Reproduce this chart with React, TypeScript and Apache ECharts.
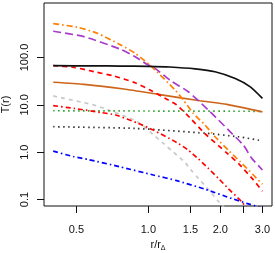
import React, { useEffect, useRef } from "react";
import * as echarts from "echarts";

// ---- data (r / r_Delta, T(r)) ----
const blackSolidR = [0.4, 0.6, 0.76, 1.0, 1.23, 1.57, 1.9, 2.31, 2.67, 3.0];
const blackSolidT = [67, 66.5, 66, 65, 63, 57.5, 50, 36, 24, 13.7];

const brownR = [0.4, 0.538, 0.79, 1.1, 1.645, 2.13, 3.0];
const brownT = [30, 27.1, 21.6, 16.7, 12.2, 10.2, 7.1];

const greenR = [0.4, 1.0, 3.0];
const greenT = [7.5, 7.4, 7.3];

const blackDotR = [0.4, 0.88, 1.75, 2.37, 3.0];
const blackDotT = [3.45, 3.18, 2.5, 2.12, 1.74];

const blueR = [0.4, 0.489, 0.56, 0.762, 1.049, 1.315, 1.727, 2.233, 2.58, 3.0];
const blueT = [1.05, 0.8, 0.7, 0.49, 0.33, 0.25, 0.165, 0.105, 0.083, 0.066];

const orangeR = [0.4, 0.505, 0.612, 0.766, 0.88, 1.016, 1.293, 1.401, 1.543, 1.727, 1.9, 2.16, 2.42, 2.75, 3.0];
const orangeT = [519, 435, 325, 184, 123, 69, 20.6, 12.6, 6.6, 3.74, 2.12, 1.1, 0.63, 0.33, 0.21];

const purpleR = [0.4, 0.538, 0.766, 0.88, 0.985, 1.067, 1.232, 1.47, 1.78, 1.963, 2.233, 2.497, 2.708, 3.0];
const purpleT = [358, 275, 149, 104, 72, 59, 33, 18.9, 7.8, 4.8, 2.5, 1.41, 0.74, 0.42];

const redDashR = [0.4, 0.489, 0.593, 0.719, 0.88, 1.016, 1.212, 1.315, 1.494, 1.72, 2.15, 2.38, 2.75, 3.0];
const redDashT = [67, 62, 50, 40.6, 29.3, 20.6, 12.6, 9.9, 5.3, 2.5, 0.92, 0.58, 0.26, 0.15];

const redDotDashR = [0.4, 0.489, 0.632, 0.73, 0.908, 1.049, 1.315, 1.47, 1.619, 1.782, 1.963, 2.16, 2.46, 3.0];
const redDotDashT = [9.6, 8.4, 6.9, 6.1, 4.06, 2.93, 1.6, 1.1, 0.72, 0.455, 0.28, 0.17, 0.089, 0.027];

const greyR = [0.4, 0.444, 0.538, 0.593, 0.653, 0.839, 0.923, 1.016, 1.155, 1.315, 1.425, 1.52, 1.619, 1.81, 1.963, 2.2];
const greyT = [15.4, 13.7, 11.1, 9.9, 8.4, 5.2, 4.06, 2.7, 1.53, 0.87, 0.6, 0.4, 0.28, 0.15, 0.092, 0.05];

const xTicks = [0.5, 1.0, 1.5, 2.0, 2.5, 3.0];
const xLabels = [0.5, 1.0, 1.5, 2.0, 3.0];
const yTicks = [0.1, 1, 10, 100];

const FONT = "Liberation Sans, Arial, Helvetica, sans-serif";

function pairs(r: number[], t: number[]) {
  return r.map((v, i) => [v, t[i]]);
}

function mk(name: string, r: number[], t: number[], color: string, type: any, width = 1.7) {
  return {
    name,
    type: "line",
    data: pairs(r, t),
    showSymbol: false,
    smooth: 0.2,
    clip: true,
    lineStyle: { color, width, type, cap: "butt" },
  };
}

export default function App() {
  const ref = useRef<HTMLDivElement>(null);
  useEffect(() => {
    if (!ref.current) return;
    const chart = echarts.init(ref.current, null, { renderer: "svg" });
    chart.setOption({
      animation: false,
      textStyle: { fontFamily: FONT },
      grid: {
        left: 44,
        right: 3,
        top: 3,
        bottom: 47,
        containLabel: false,
        outerBoundsMode: "none",
        show: true,
        borderColor: "#111",
        borderWidth: 1,
        backgroundColor: "transparent",
      },
      xAxis: {
        type: "log",
        logBase: 10,
        min: 0.366,
        max: 3.29,
        axisLine: { show: false },
        splitLine: { show: false },
        minorTick: { show: false },
        axisTick: { show: true, inside: false, length: 7, customValues: xTicks, lineStyle: { color: "#111" } },
        axisLabel: {
          customValues: xLabels,
          formatter: (v: number) => v.toFixed(1),
          color: "#111",
          fontSize: 11,
          fontFamily: FONT,
          margin: 17,
        },
        name: "{a|r/r}{b|\u0394}",
        nameLocation: "middle",
        nameGap: 28,
        nameTextStyle: {
          rich: {
            a: { fontSize: 11, fontFamily: FONT, color: "#111" },
            b: { fontSize: 7, fontFamily: FONT, color: "#111", padding: [7, 0, 0, 0] },
          },
        },
      },
      yAxis: {
        type: "log",
        logBase: 10,
        min: 0.073,
        max: 1415,
        axisLine: { show: false },
        splitLine: { show: false },
        minorTick: { show: false },
        axisTick: { show: true, inside: false, length: 7, customValues: yTicks, lineStyle: { color: "#111" } },
        axisLabel: {
          customValues: yTicks,
          formatter: (v: number) => v.toFixed(1),
          rotate: 90,
          color: "#111",
          fontSize: 11,
          fontFamily: FONT,
          margin: 15,
        },
        name: "T(r)",
        nameLocation: "middle",
        nameGap: 31,
        nameTextStyle: { fontSize: 11, fontFamily: FONT, color: "#111" },
      },
      series: [
        mk("grey", greyR, greyT, "#c8c8c8", [4, 4]),
        mk("blue", blueR, blueT, "#0000ff", [5, 3, 1.5, 3]),
        mk("blackDot", blackDotR, blackDotT, "#333333", [1.5, 3.5]),
        mk("green", greenR, greenT, "#22a022", [1.5, 3.5]),
        mk("redDotDash", redDotDashR, redDotDashT, "#ff0000", [5, 3, 1.5, 3]),
        mk("brown", brownR, brownT, "#cd661d", "solid"),
        mk("redDash", redDashR, redDashT, "#ff0000", [5, 4]),
        mk("purple", purpleR, purpleT, "#a83bcc", [8, 4]),
        mk("orange", orangeR, orangeT, "#ff7f00", [6, 3, 1.5, 3]),
        mk("blackSolid", blackSolidR, blackSolidT, "#111111", "solid"),
      ],
    });
    return () => chart.dispose();
  }, []);
  return (
    <div
      ref={ref}
      style={{ position: "fixed", left: 0, top: 0, width: 275, height: 253 }}
    />
  );
}
